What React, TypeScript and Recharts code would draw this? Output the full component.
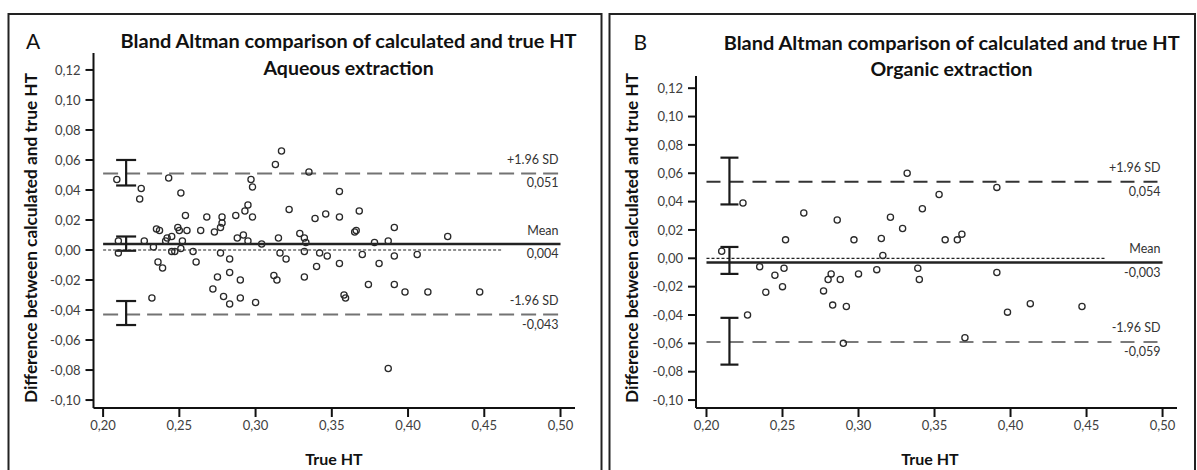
import React from 'react';
import { ScatterChart, Scatter, XAxis, YAxis, ReferenceLine, ErrorBar, Label } from 'recharts';

// ---------- Panel A: Aqueous extraction ----------
const aqueousTrueHT = [
  0.209, 0.210, 0.210, 0.225, 0.224, 0.227, 0.232, 0.233, 0.235, 0.237,
  0.236, 0.239, 0.241, 0.242, 0.243, 0.245, 0.245, 0.247, 0.249, 0.250,
  0.251, 0.251, 0.252, 0.254, 0.255, 0.259, 0.261, 0.264, 0.268, 0.272,
  0.273, 0.275, 0.277, 0.278, 0.278, 0.277, 0.279, 0.283, 0.283, 0.283,
  0.287, 0.288, 0.290, 0.290, 0.292, 0.293, 0.295, 0.295, 0.297, 0.298,
  0.298, 0.300, 0.304, 0.312, 0.313, 0.314, 0.315, 0.317, 0.316, 0.320,
  0.322, 0.329, 0.332, 0.332, 0.332, 0.333, 0.335, 0.339, 0.340, 0.342,
  0.346, 0.347, 0.355, 0.355, 0.355, 0.358, 0.359, 0.365, 0.366, 0.368,
  0.370, 0.374, 0.378, 0.381, 0.387, 0.387, 0.391, 0.391, 0.391, 0.398,
  0.406, 0.413, 0.426, 0.447,
];
const aqueousDiff = [
  0.047, 0.006, -0.002, 0.041, 0.034, 0.006, -0.032, 0.002, 0.014, 0.013,
  -0.008, -0.012, 0.006, 0.008, 0.048, 0.009, -0.001, -0.001, 0.015, 0.013,
  0.038, 0.001, 0.006, 0.023, 0.013, -0.001, -0.008, 0.013, 0.022, -0.026,
  0.012, -0.018, 0.015, 0.018, 0.022, -0.002, -0.031, -0.006, -0.015, -0.036,
  0.023, 0.008, -0.020, -0.032, 0.010, 0.026, 0.030, 0.006, 0.047, 0.042,
  0.022, -0.035, 0.004, -0.017, 0.057, -0.020, 0.008, 0.066, -0.002, -0.006,
  0.027, 0.011, 0.008, -0.018, -0.001, 0.005, 0.052, 0.021, -0.011, -0.002,
  0.024, -0.004, 0.039, 0.022, -0.009, -0.030, -0.032, 0.012, 0.013, 0.026,
  -0.003, -0.023, 0.005, -0.009, 0.006, -0.079, 0.015, -0.023, -0.004, -0.028,
  -0.003, -0.028, 0.009, -0.028,
];
const aqueousLimits = [0.051, 0.004, -0.043]; // +1.96 SD, mean, -1.96 SD
const aqueousCiLow = [0.043, -0.0005, -0.050];
const aqueousCiHigh = [0.060, 0.009, -0.034];

// ---------- Panel B: Organic extraction ----------
const organicTrueHT = [
  0.210, 0.224, 0.227, 0.235, 0.239, 0.245, 0.250, 0.251, 0.252, 0.264,
  0.277, 0.280, 0.282, 0.283, 0.286, 0.288, 0.290, 0.292, 0.297, 0.300,
  0.312, 0.315, 0.316, 0.321, 0.329, 0.332, 0.339, 0.340, 0.342, 0.353,
  0.357, 0.365, 0.368, 0.370, 0.391, 0.391, 0.398, 0.413, 0.447,
];
const organicDiff = [
  0.005, 0.039, -0.040, -0.006, -0.024, -0.012, -0.020, -0.007, 0.013, 0.032,
  -0.023, -0.015, -0.011, -0.033, 0.027, -0.015, -0.060, -0.034, 0.013, -0.011,
  -0.008, 0.014, 0.002, 0.029, 0.021, 0.060, -0.007, -0.015, 0.035, 0.045,
  0.013, 0.013, 0.017, -0.056, 0.050, -0.010, -0.038, -0.032, -0.034,
];
const organicLimits = [0.054, -0.003, -0.059];
const organicCiLow = [0.038, -0.011, -0.075];
const organicCiHigh = [0.071, 0.008, -0.042];

// ---------- shared ----------
const xTicks = [0.2, 0.25, 0.3, 0.35, 0.4, 0.45, 0.5];
const yTicks = [-0.1, -0.08, -0.06, -0.04, -0.02, 0, 0.02, 0.04, 0.06, 0.08, 0.1, 0.12];
const limitTitles = ['+1.96 SD', 'Mean', '-1.96 SD'];
const lineStart = 0.2;
const lineEnd = 0.5;
const zeroLineEnd = 0.462;
const ciX = 0.2151;

const FONT = "Lato, 'Open Sans', sans-serif";
const fmt = (v: number) => v.toFixed(2).replace('.', ',');
const fmt3 = (v: number) => v.toFixed(3).replace('.', ',');

type PanelProps = {
  xs: number[];
  ys: number[];
  limits: number[];
  ciLow: number[];
  ciHigh: number[];
  width: number;
  margin: { top: number; left: number; right: number; bottom: number };
  xDomain: [number, number];
  yDomain: [number, number];
  sdColors: [string, string];
  dash: string;
  capHalf: number;
};

const makeLineLabel = (top: string, bottom: string) => (props: any) => {
  const vb = props.viewBox || {};
  const xr = (vb.x || 0) + (vb.width || 0) - 2;
  const y = vb.y || 0;
  return (
    <g>
      <text x={xr} y={y - 9.5} textAnchor="end" fontFamily={FONT} fontSize={12.5} fill="#333">{top}</text>
      <text x={xr} y={y + 14} textAnchor="end" fontFamily={FONT} fontSize={12.5} fill="#333">{bottom}</text>
    </g>
  );
};

function Panel(p: PanelProps) {
  const points = p.xs.map((x, i) => ({ x, y: p.ys[i] }));
  const ci = p.ciLow.map((lo, i) => ({
    x: ciX,
    y: (lo + p.ciHigh[i]) / 2,
    err: (p.ciHigh[i] - lo) / 2,
  }));
  const tickStyle = { fontFamily: FONT, fontSize: 13, fill: '#404040' };
  const lineColors = [p.sdColors[0], '#222', p.sdColors[1]];
  return (
    <ScatterChart width={p.width} height={470} margin={p.margin}>
      <XAxis
        type="number"
        dataKey="x"
        domain={p.xDomain}
        ticks={xTicks}
        tickFormatter={fmt}
        allowDataOverflow
        height={30}
        axisLine={{ stroke: '#111', strokeWidth: 2 }}
        tickLine={{ stroke: '#111', strokeWidth: 2 }}
        tickSize={9}
        tickMargin={4}
        tick={tickStyle}
      />
      <YAxis
        type="number"
        dataKey="y"
        domain={p.yDomain}
        ticks={yTicks}
        tickFormatter={fmt}
        allowDataOverflow
        width={60}
        axisLine={{ stroke: '#111', strokeWidth: 2 }}
        tickLine={{ stroke: '#111', strokeWidth: 2 }}
        tickSize={8}
        tickMargin={5}
        tick={tickStyle}
      />
      <ReferenceLine
        segment={[{ x: lineStart, y: 0 }, { x: zeroLineEnd, y: 0 }]}
        stroke="#222"
        strokeWidth={1.2}
        strokeDasharray="3 2"
      />
      {p.limits.map((v, i) => (
        <ReferenceLine
          key={i}
          segment={[{ x: lineStart, y: v }, { x: lineEnd, y: v }]}
          stroke={lineColors[i]}
          strokeWidth={i === 1 ? 2.5 : 2}
          strokeDasharray={i === 1 ? undefined : p.dash}
        >
          <Label content={makeLineLabel(limitTitles[i], fmt3(v))} />
        </ReferenceLine>
      ))}
      <Scatter
        data={points}
        isAnimationActive={false}
        shape={(sp: any) => (
          <circle cx={sp.cx} cy={sp.cy} r={3.1} fill="none" stroke="#2a2a2a" strokeWidth={1.3} />
        )}
      />
      <Scatter data={ci} isAnimationActive={false} shape={() => <g />}>
        <ErrorBar dataKey="err" direction="y" width={p.capHalf} stroke="#1a1a1a" strokeWidth={2.2} isAnimationActive={false} />
      </Scatter>
    </ScatterChart>
  );
}

export default function App() {
  return (
    <div style={{ position: 'absolute', left: 0, top: 0, width: 1197, height: 470, background: '#fff', overflow: 'hidden' }}>
      <div style={{ position: 'absolute', left: 0, top: 0 }}>
        <Panel
          xs={aqueousTrueHT}
          ys={aqueousDiff}
          limits={aqueousLimits}
          ciLow={aqueousCiLow}
          ciHigh={aqueousCiHigh}
          width={600}
          margin={{ top: 53, left: 33.5, right: 25, bottom: 32 }}
          xDomain={[0.1937, 0.5095]}
          yDomain={[-0.1053, 0.1313]}
          sdColors={['#737373', '#737373']}
          dash="15 7"
          capHalf={10}
        />
      </div>
      <div style={{ position: 'absolute', left: 600, top: 0 }}>
        <Panel
          xs={organicTrueHT}
          ys={organicDiff}
          limits={organicLimits}
          ciLow={organicCiLow}
          ciHigh={organicCiHigh}
          width={597}
          margin={{ top: 76, left: 36, right: 20, bottom: 32 }}
          xDomain={[0.1931, 0.5095]}
          yDomain={[-0.1056, 0.1286]}
          sdColors={['#333', '#7a7a7a']}
          dash="14 9"
          capHalf={9}
        />
      </div>
      <svg
        width={1197}
        height={470}
        style={{ position: 'absolute', left: 0, top: 0, pointerEvents: 'none' }}
      >
        <rect x={8.5} y={14} width={593} height={470} fill="none" stroke="#222" strokeWidth={2} />
        <rect x={609.5} y={14} width={585.5} height={470} fill="none" stroke="#222" strokeWidth={2} />
        <g fontFamily={FONT} fill="#111">
          <text x={26} y={49} fontSize={21}>A</text>
          <text x={348.6} y={48} textAnchor="middle" fontSize={19.5} fontWeight="bold" textLength={456} lengthAdjust="spacingAndGlyphs">Bland Altman comparison of calculated and true HT</text>
          <text x={348.6} y={75} textAnchor="middle" fontSize={19.5} fontWeight="bold">Aqueous extraction</text>
          <text x={30.5} y={238} transform="rotate(-90 30.5 238)" textAnchor="middle" dominantBaseline="central" fontSize={17} fontWeight="bold" textLength={330} lengthAdjust="spacingAndGlyphs">Difference between calculated and true HT</text>
          <text x={334} y={465} textAnchor="middle" fontSize={16} fontWeight="bold">True HT</text>

          <text x={633.5} y={50} fontSize={21}>B</text>
          <text x={951.7} y={50} textAnchor="middle" fontSize={19.5} fontWeight="bold" textLength={456} lengthAdjust="spacingAndGlyphs">Bland Altman comparison of calculated and true HT</text>
          <text x={951.5} y={76} textAnchor="middle" fontSize={19.5} fontWeight="bold">Organic extraction</text>
          <text x={631.4} y={238} transform="rotate(-90 631.4 238)" textAnchor="middle" dominantBaseline="central" fontSize={17} fontWeight="bold" textLength={330} lengthAdjust="spacingAndGlyphs">Difference between calculated and true HT</text>
          <text x={930} y={465} textAnchor="middle" fontSize={16} fontWeight="bold">True HT</text>
        </g>
      </svg>
    </div>
  );
}
